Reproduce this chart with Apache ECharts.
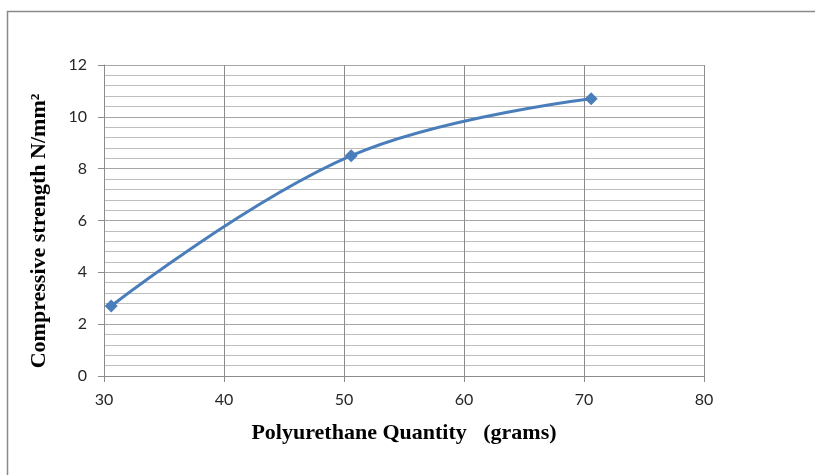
<!DOCTYPE html>
<html>
<head>
<meta charset="utf-8">
<script src="https://cdn.jsdelivr.net/npm/echarts@6/dist/echarts.min.js"></script>
<style>html,body{margin:0;padding:0;background:#fff;}#c{width:815px;height:475px;}</style>
</head>
<body>
<div id="c"></div>
<script>
const quantity = [30.6, 50.6, 70.6];
const strength = [2.7, 8.5, 10.7];
const xTitle = 'Polyurethane Quantity   (grams)';
const yTitle = 'Compressive strength N/mm²';

const chart = echarts.init(document.getElementById('c'), null, {renderer: 'canvas'});
chart.setOption({
  animation: false,
  backgroundColor: '#ffffff',
  graphic: [{
    type: 'rect', left: 5, top: 9, silent: true,
    shape: {width: 900, height: 600},
    style: {fill: 'none', stroke: '#8a8a8a', lineWidth: 1.5}
  }, {
    type: 'text', silent: true,
    x: 39, y: 231, rotation: Math.PI / 2,
    style: {
      text: yTitle, align: 'center', verticalAlign: 'middle',
      font: 'bold 22px "Liberation Serif"', fill: '#000'
    }
  }],
  grid: {left: 104, right: 111, top: 65, bottom: 99},
  xAxis: {
    type: 'value', min: 30, max: 80, interval: 10,
    name: xTitle, nameLocation: 'middle', nameGap: 46,
    nameTextStyle: {fontFamily: 'Liberation Serif', fontWeight: 'bold', fontSize: 22, color: '#000'},
    axisLine: {show: true, onZero: false, lineStyle: {color: '#8c8c8c', width: 1}},
    axisTick: {show: true, length: 6, lineStyle: {color: '#8c8c8c'}},
    axisLabel: {fontFamily: 'Lato', fontSize: 16, color: '#262626', margin: 16},
    splitLine: {show: true, lineStyle: {color: '#8c8c8c', width: 1}}
  },
  yAxis: {
    type: 'value', min: 0, max: 12, interval: 2,
    axisLine: {show: true, lineStyle: {color: '#8c8c8c', width: 1}},
    axisTick: {show: true, length: 6, lineStyle: {color: '#8c8c8c'}},
    axisLabel: {fontFamily: 'Lato', fontSize: 16, color: '#262626', margin: 17},
    splitLine: {show: true, lineStyle: {color: '#a6a6a6', width: 1}},
    minorTick: {show: false, splitNumber: 5},
    minorSplitLine: {show: true, lineStyle: {color: '#bdbdbd', width: 1}}
  },
  series: [{
    type: 'line',
    data: quantity.map((q, i) => [q, strength[i]]),
    smooth: 0.4,
    symbol: 'diamond', symbolSize: 13,
    lineStyle: {color: '#4a7ebb', width: 3},
    itemStyle: {color: '#4a7ebb'}
  }]
});
</script>
</body>
</html>
